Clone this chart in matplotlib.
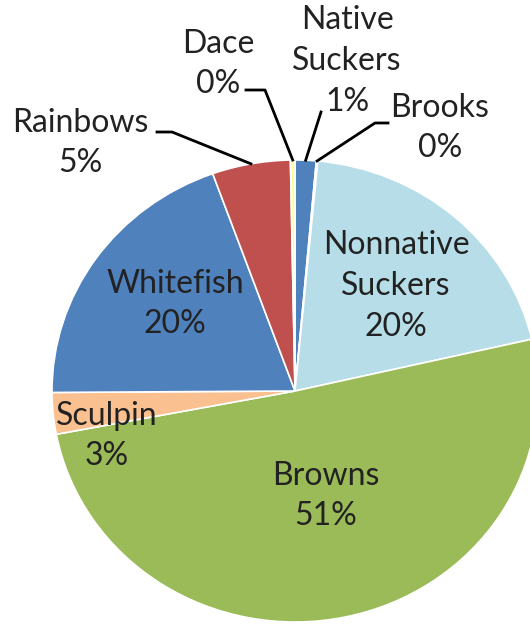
"""Fish species composition pie chart, redrawn as out.png (530x624)."""

import numpy as np
import matplotlib

matplotlib.use("Agg")
import matplotlib.pyplot as plt

plt.rcParams["font.family"] = ["Lato", "DejaVu Sans"]

# data (clockwise from 12 o'clock)
species = ["Native\nSuckers", "Brooks", "Nonnative\nSuckers", "Browns",
           "Sculpin", "Whitefish", "Rainbows", "Dace"]
percent = [1.4, 0.1, 19.9, 50.6, 2.9, 19.6, 5.2, 0.3]
colors = ["#4F81BD", "#8064A2", "#B7DEE8", "#9BBB59",
          "#FAC090", "#4F81BD", "#C0504D", "#FFFF99"]

# label block centres, in pixels from top-left
label_pos = {
    "Native\nSuckers": (347, 61),
    "Brooks": (440, 128),
    "Nonnative\nSuckers": (396, 286),
    "Browns": (326, 496),
    "Sculpin": (107, 436),
    "Whitefish": (175, 304),
    "Rainbows": (80, 143),
    "Dace": (218, 64),
}
# leader lines for the outside labels: points running from the label to the slice
leaders = {
    "Rainbows": [(157, 132), (172, 132)],
    "Dace": [(246, 90), (265, 90)],
    "Native\nSuckers": [(321, 112)],
    "Brooks": [(388, 123), (375, 123)],
}

W, H = 530, 624
CX, CY, RX, RY = 295, 391, 243, 231  # pie centre and radii in pixels


def px(x, y):
    return (x - CX) / RX, (CY - y) / RY


fig = plt.figure(figsize=(W / 100, H / 100), dpi=100)
ax = fig.add_axes([0, 0, 1, 1])
wedges, _ = ax.pie(percent, colors=colors, startangle=90, counterclock=False,
                   radius=1, wedgeprops=dict(edgecolor="white", linewidth=1.2))
ax.set_aspect("auto")
ax.set_xlim(-CX / RX, (W - CX) / RX)
ax.set_ylim(-(H - CY) / RY, CY / RY)
ax.axis("off")

total = sum(percent)
for name, val, w in zip(species, percent, wedges):
    x, y = px(*label_pos[name])
    ax.text(x, y, f"{name}\n{round(val / total * 100)}%", ha="center",
            va="center", fontsize=23, color="#222222", linespacing=1.45)
    if name in leaders:
        mid = np.deg2rad((w.theta1 + w.theta2) / 2)
        pts = [px(*p) for p in leaders[name]] + [(np.cos(mid), np.sin(mid))]
        xs, ys = zip(*pts)
        ax.plot(xs, ys, color="black", linewidth=2)

fig.savefig("out.png", dpi=100)
